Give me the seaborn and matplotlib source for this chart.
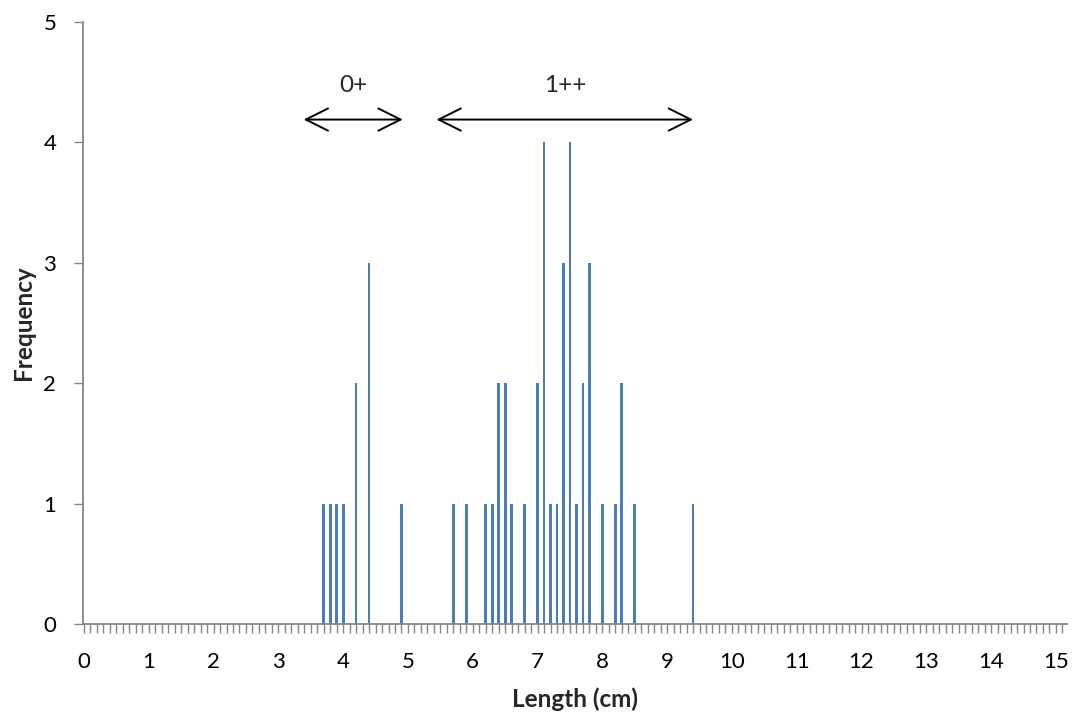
import matplotlib
matplotlib.use("Agg")
import matplotlib.pyplot as plt
import seaborn as sns
import numpy as np
import pandas as pd
from matplotlib.ticker import MultipleLocator

lengths = [3.7, 3.8, 3.9, 4.0, 4.2, 4.4, 4.9, 5.7, 5.9, 6.2, 6.3, 6.4, 6.5, 6.6,
           6.8, 7.0, 7.1, 7.2, 7.3, 7.4, 7.5, 7.6, 7.7, 7.8, 8.0, 8.2, 8.3, 8.5, 9.4]
frequency = [1, 1, 1, 1, 2, 3, 1, 1, 1, 1, 1, 2, 2, 1,
             1, 2, 4, 1, 1, 3, 4, 1, 2, 3, 1, 1, 2, 1, 1]
x_ticks = list(range(0, 16))
y_ticks = [0, 1, 2, 3, 4, 5]
group_labels = ["0+", "1++"]
group_ranges = [(3.39, 4.92), (5.44, 9.40)]

sns.set_style("white")
plt.rcParams['font.family'] = ['Lato', 'DejaVu Sans']

fig = plt.figure(figsize=(10.75, 7.13), dpi=100)
ax = fig.add_axes([0.0775, 0.1248, 0.9150, 0.8443])

df = pd.DataFrame({"Length": lengths, "Frequency": frequency})
sns.barplot(data=df, x="Length", y="Frequency", native_scale=True, width=0.42,
            color="#4A7EBB", saturation=1, edgecolor="none", ax=ax)

ax.set_xlim(-0.01, 15.17)
ax.set_ylim(0, 5)
ax.set_xticks(x_ticks)
ax.set_xticklabels([str(t) for t in x_ticks])
ax.xaxis.set_minor_locator(MultipleLocator(0.1))
ax.set_yticks(y_ticks)

gray = "#868686"
for side in ["top", "right"]:
    ax.spines[side].set_visible(False)
for side in ["left", "bottom"]:
    ax.spines[side].set_visible(True)
    ax.spines[side].set_color(gray)
    ax.spines[side].set_linewidth(1.3)

ax.tick_params(axis="x", which="both", direction="out", length=6.5, width=1.0,
               color=gray, bottom=True, labelsize=16, pad=14, labelcolor="#000000")
ax.tick_params(axis="y", which="major", direction="out", length=6.5, width=1.0,
               color=gray, left=True, labelsize=16, pad=13, labelcolor="#000000")

ax.set_xlabel("Length (cm)", fontsize=17.5, fontweight="bold", labelpad=11)
ax.set_ylabel("Frequency", fontsize=17.5, fontweight="bold", labelpad=6)

for label, (x0, x1) in zip(group_labels, group_ranges):
    ax.annotate("", xy=(x0, 4.19), xytext=(x1, 4.19),
                arrowprops=dict(arrowstyle="<->", color="black", lw=1.4,
                                mutation_scale=40, shrinkA=0, shrinkB=0))
    ax.text((x0 + x1) / 2, 4.47, label, ha="center", va="center", fontsize=17.5)

fig.savefig("out.png", dpi=100)
